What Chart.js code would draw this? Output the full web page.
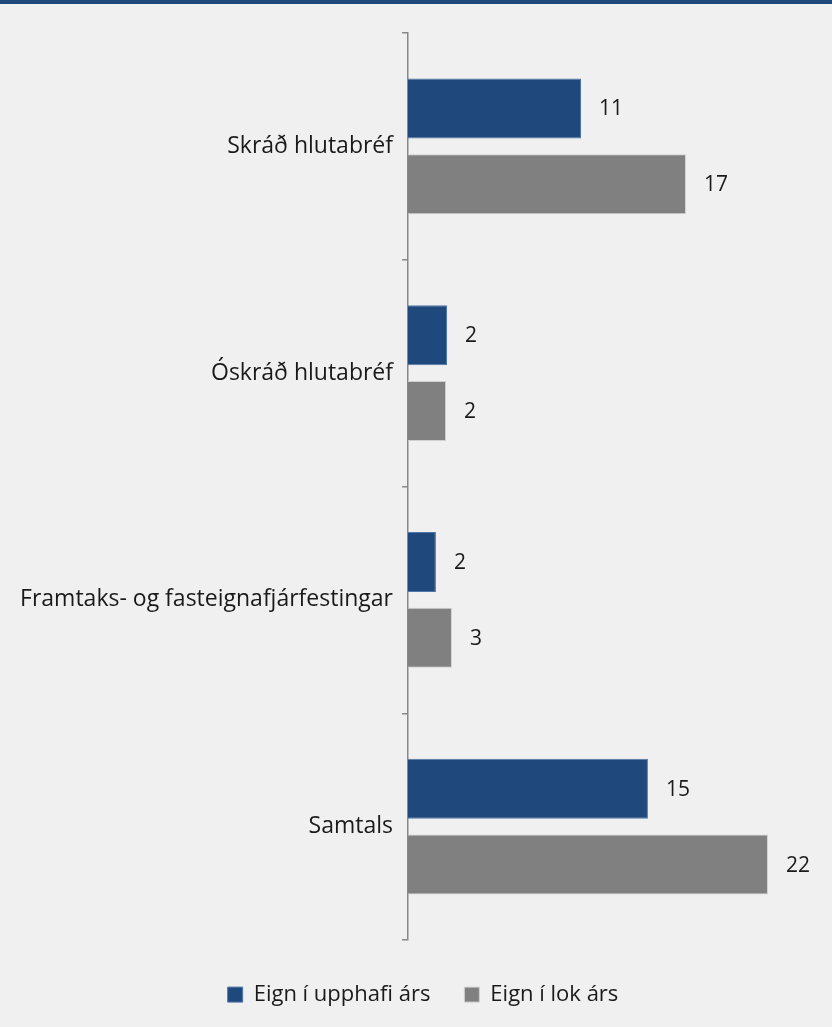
<!DOCTYPE html>
<html>
<head>
<meta charset="utf-8">
<script src="https://cdn.jsdelivr.net/npm/chart.js@4"></script>
<style>
  html, body { margin: 0; padding: 0; background: #f0f0f0; }
  #wrap { position: relative; width: 832px; height: 1027px; }
  #topbar { position: absolute; left: 0; top: 0; width: 832px; height: 4px; background: #1f497d; }
  canvas { position: absolute; left: 0; top: 0; }
</style>
</head>
<body>
<div id="wrap">
  <canvas id="chart" width="832" height="1027"></canvas>
  <div id="topbar"></div>
</div>
<script>
var categories = ['Skráð hlutabréf', 'Óskráð hlutabréf', 'Framtaks- og fasteignafjárfestingar', 'Samtals'];
var upphaf = [10.55, 2.38, 1.7, 14.63];
var lok = [16.95, 2.32, 2.68, 21.95];

// tölugildi við enda súlna
var valueLabels = {
  id: 'valueLabels',
  afterDatasetsDraw: function(chart) {
    var ctx = chart.ctx;
    ctx.save();
    ctx.font = '21px "Open Sans"';
    ctx.fillStyle = '#1a1a1a';
    ctx.textAlign = 'left';
    ctx.textBaseline = 'middle';
    chart.data.datasets.forEach(function(ds, i) {
      chart.getDatasetMeta(i).data.forEach(function(bar, j) {
        ctx.fillText(Math.round(ds.data[j]), bar.x + 18, bar.y + 1);
      });
    });
    ctx.restore();
  }
};

// fast hæð á skýringu svo teiknisvæðið endi við 940, og hliðrun um 14px
var legendTweak = {
  id: 'legendTweak',
  beforeInit: function(chart) {
    var legend = chart.legend;
    var fit = legend.fit;
    legend.fit = function() {
      fit.bind(legend)();
      this.height = 87;
    };
    var drawLegend = legend.draw;
    legend.draw = function() {
      var ctx = chart.ctx;
      ctx.save();
      ctx.translate(14, 0);
      drawLegend.bind(legend)();
      ctx.restore();
    };
  }
};

function draw() {
  new Chart(document.getElementById('chart'), {
    type: 'bar',
    data: {
      labels: categories,
      datasets: [
        {
          label: 'Eign í upphafi árs',
          backgroundColor: '#1f497d',
          borderColor: '#4f76a8',
          borderWidth: 1,
          data: upphaf
        },
        {
          label: 'Eign í lok árs',
          backgroundColor: '#808080',
          borderColor: '#d0d0d0',
          borderWidth: 1,
          data: lok
        }
      ]
    },
    options: {
      indexAxis: 'y',
      responsive: false,
      animation: false,
      categoryPercentage: 0.67,
      barPercentage: 0.79,
      layout: { padding: { top: 33, right: 14, left: 0, bottom: 0 } },
      plugins: {
        tooltip: { enabled: false },
        legend: {
          position: 'bottom',
          title: { display: true, text: ' ', padding: 0, font: { size: 8 } },
          labels: {
            boxWidth: 15,
            boxHeight: 15,
            padding: 34,
            color: '#1a1a1a',
            font: { family: 'Open Sans', size: 22 }
          }
        }
      },
      scales: {
        x: {
          display: false,
          min: 0,
          max: 25
        },
        y: {
          afterFit: function(scale) { scale.width = 408; },
          grid: {
            drawOnChartArea: false,
            drawTicks: true,
            tickLength: 6,
            color: '#888888',
            lineWidth: 1.5
          },
          border: { display: true, color: '#888888', width: 1.5 },
          ticks: {
            color: '#1a1a1a',
            padding: 9,
            font: { family: 'Open Sans', size: 23 }
          }
        }
      }
    },
    plugins: [valueLabels, legendTweak]
  });
}

Promise.all([
  document.fonts.load('21px "Open Sans"'),
  document.fonts.load('23px "Open Sans"')
]).then(draw, draw);
</script>
</body>
</html>
